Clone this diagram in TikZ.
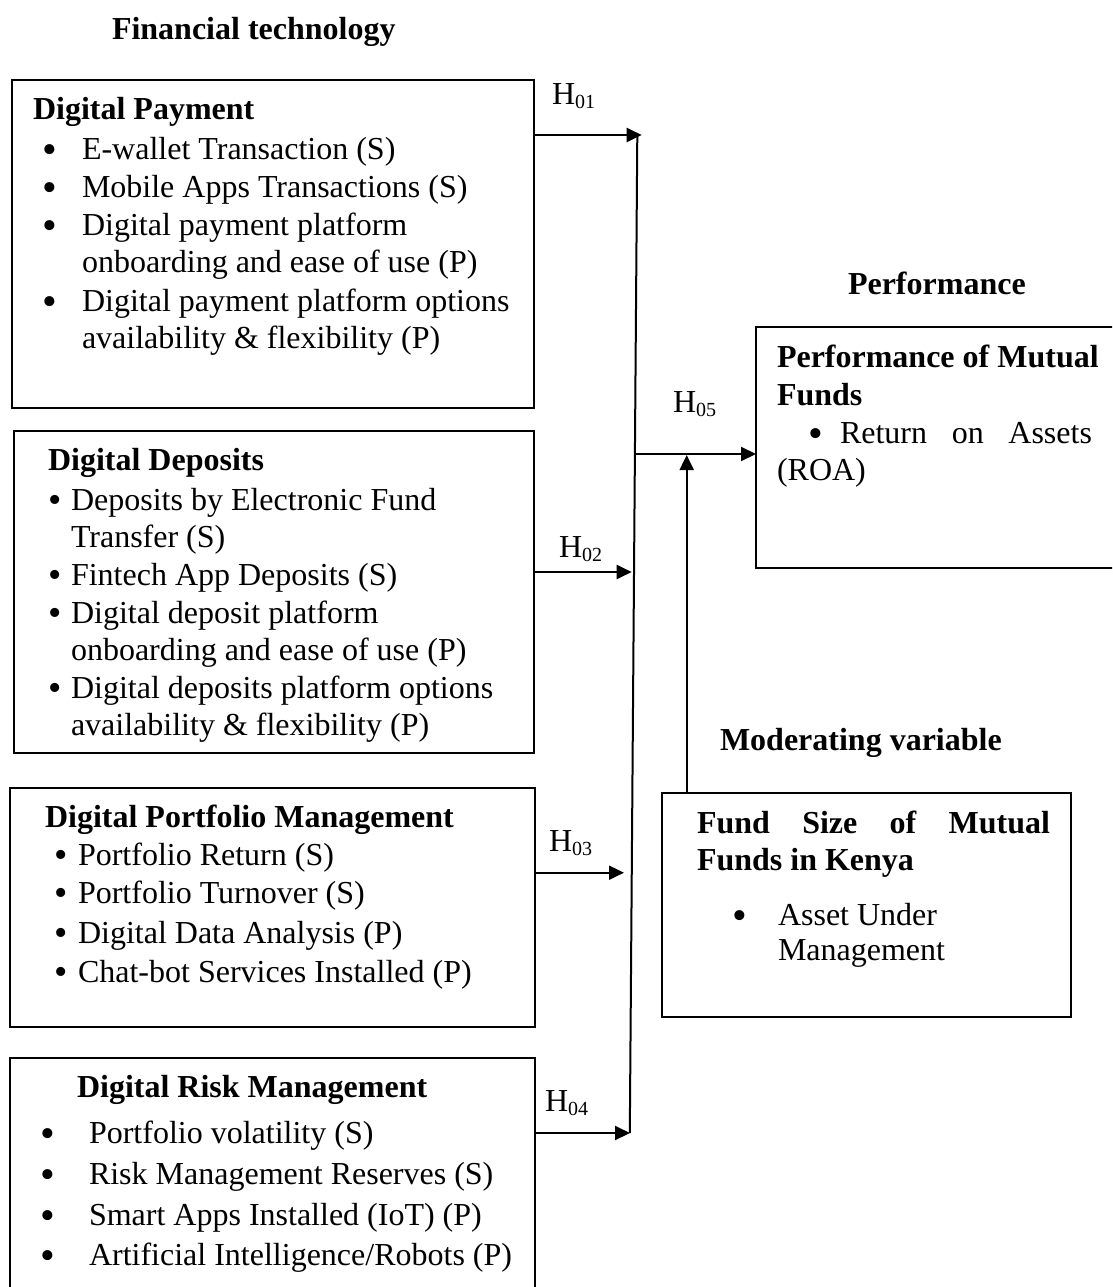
\documentclass[tikz,border=0pt]{standalone}
\usepackage{fontspec}
\setmainfont{Liberation Serif}
\usetikzlibrary{arrows.meta}
\newcommand{\hsubl}[2]{#1\raisebox{-4pt}{\fontsize{20}{20}\selectfont #2}}
\begin{document}
\begin{tikzpicture}[x=1pt,y=-1pt,
  every node/.style={inner sep=0pt,outer sep=0pt},
  box/.style={draw,line width=2pt,anchor=north west},
  txt/.style={anchor=base west,font=\fontsize{32}{38}\selectfont},
  hd/.style={anchor=base west,font=\fontsize{32}{38}\selectfont\bfseries},
  bul/.style={anchor=base,font=\fontsize{42}{42}\selectfont,yshift=-4pt},
  buls/.style={anchor=base,font=\fontsize{38}{38}\selectfont,yshift=-2.5pt},
  ln/.style={line width=2pt},
  arr/.style={line width=2pt,-{Triangle[length=15pt,width=14pt]}}]
\useasboundingbox (0,0) rectangle (1112,1287);
\clip (0,0) rectangle (1112,1287);

% headings
\node[hd] (ft) at (112,40) {Financial technology};
\node[hd] (pf) at (848,294) {Performance};
\node[hd] (mv) at (720,750) {Moderating variable};

% Box 1: Digital Payment
\node[box,minimum width=522pt,minimum height=328pt] (b1) at (12,80) {};
\node[hd] (b1t) at (33,120) {Digital Payment};
\node[bul] (b1b1) at (50,159) {\textbullet};
\node[bul] (b1b2) at (50,197) {\textbullet};
\node[bul] (b1b3) at (50,235) {\textbullet};
\node[bul] (b1b4) at (50,311) {\textbullet};
\node[txt] (b1l1) at (82,159) {E-wallet Transaction (S)};
\node[txt] (b1l2) at (82,197) {Mobile Apps Transactions (S)};
\node[txt] (b1l3) at (82,235) {Digital payment platform};
\node[txt] (b1l4) at (82,272) {onboarding and ease of use (P)};
\node[txt] (b1l5) at (82,311) {Digital payment platform options};
\node[txt] (b1l6) at (82,348) {availability \& flexibility (P)};

% Box 2: Digital Deposits
\node[box,minimum width=520pt,minimum height=322pt] (b2) at (14,431) {};
\node[hd] (b2t) at (48,470) {Digital Deposits};
\node[buls] (b2b1) at (55,510) {\textbullet};
\node[buls] (b2b2) at (55,585) {\textbullet};
\node[buls] (b2b3) at (55,623) {\textbullet};
\node[buls] (b2b4) at (55,698) {\textbullet};
\node[txt] (b2l1) at (71,510) {Deposits by Electronic Fund};
\node[txt] (b2l2) at (71,547) {Transfer (S)};
\node[txt] (b2l3) at (71,585) {Fintech App Deposits (S)};
\node[txt] (b2l4) at (71,623) {Digital deposit platform};
\node[txt] (b2l5) at (71,660) {onboarding and ease of use (P)};
\node[txt] (b2l6) at (71,698) {Digital deposits platform options};
\node[txt] (b2l7) at (71,735) {availability \& flexibility (P)};

% Box 3: Digital Portfolio Management
\node[box,minimum width=525pt,minimum height=239pt] (b3) at (10,788) {};
\node[hd] (b3t) at (45,827) {Digital Portfolio Management};
\node[buls] (b3b1) at (61,865) {\textbullet};
\node[buls] (b3b2) at (61,903) {\textbullet};
\node[buls] (b3b3) at (61,943) {\textbullet};
\node[buls] (b3b4) at (61,982) {\textbullet};
\node[txt] (b3l1) at (78,865) {Portfolio Return (S)};
\node[txt] (b3l2) at (78,903) {Portfolio Turnover (S)};
\node[txt] (b3l3) at (78,943) {Digital Data Analysis (P)};
\node[txt] (b3l4) at (78,982) {Chat-bot Services Installed (P)};

% Box 4: Digital Risk Management
\node[box,minimum width=525pt,minimum height=300pt] (b4) at (10,1058) {};
\node[hd] (b4t) at (77,1097) {Digital Risk Management};
\node[bul] (b4b1) at (48,1143) {\textbullet};
\node[bul] (b4b2) at (48,1184) {\textbullet};
\node[bul] (b4b3) at (48,1225) {\textbullet};
\node[bul] (b4b4) at (48,1265) {\textbullet};
\node[txt] (b4l1) at (89,1143) {Portfolio volatility (S)};
\node[txt] (b4l2) at (89,1184) {Risk Management Reserves (S)};
\node[txt] (b4l3) at (89,1225) {Smart Apps Installed (IoT) (P)};
\node[txt] (b4l4) at (89,1265) {Artificial Intelligence/Robots (P)};

% Performance box
\node[box,minimum width=420pt,minimum height=241pt] (bp) at (756,327) {};
\node[hd] (bpt1) at (777,367) {Performance of Mutual};
\node[hd] (bpt2) at (777,405) {Funds};
\node[bul] (bpb1) at (816,443) {\textbullet};
\node[txt] (bpl1) at (840,443) {\hbox to 252pt{Return\hfill on\hfill Assets}};
\node[txt] (bpl2) at (777,480) {(ROA)};

% Fund size box
\node[box,minimum width=409pt,minimum height=224pt] (bf) at (662,793) {};
\node[hd] (bft1) at (697,833) {\hbox to 353pt{Fund\hfill Size\hfill of\hfill Mutual}};
\node[hd] (bft2) at (697,870) {Funds in Kenya};
\node[bul] (bfb1) at (740,925) {\textbullet};
\node[txt] (bfl1) at (778,925) {Asset Under};
\node[txt] (bfl2) at (778,960) {Management};

% hypothesis labels
\node[txt] (h1) at (552,105) {\hsubl{H}{01}};
\node[txt] (h2) at (559,557) {\hsubl{H}{02}};
\node[txt] (h3) at (549,851) {\hsubl{H}{03}};
\node[txt] (h4) at (545,1111) {\hsubl{H}{04}};
\node[txt] (h5) at (673,412) {\hsubl{H}{05}};

% connectors
\coordinate (vt) at (637.3,135);
\coordinate (vb) at (629.8,1133);
\draw[ln] (vt) -- (vb);
\coordinate (e1) at (641.7,135);
\coordinate (e2) at (631.7,572);
\coordinate (e3) at (624,872.7);
\coordinate (e4) at (630,1133);
\draw[arr] (b1.east |- e1) -- (e1);
\draw[arr] (b2.east |- e2) -- (e2);
\draw[arr] (b3.east |- e3) -- (e3);
\draw[arr] (b4.east |- e4) -- (e4);
\coordinate (s5) at (636,454);
\draw[arr] (s5) -- (bp.west |- s5);
\coordinate (mt) at (686.7,455);
\draw[arr] (bf.north -| mt) -- (mt);
\end{tikzpicture}
\end{document}
